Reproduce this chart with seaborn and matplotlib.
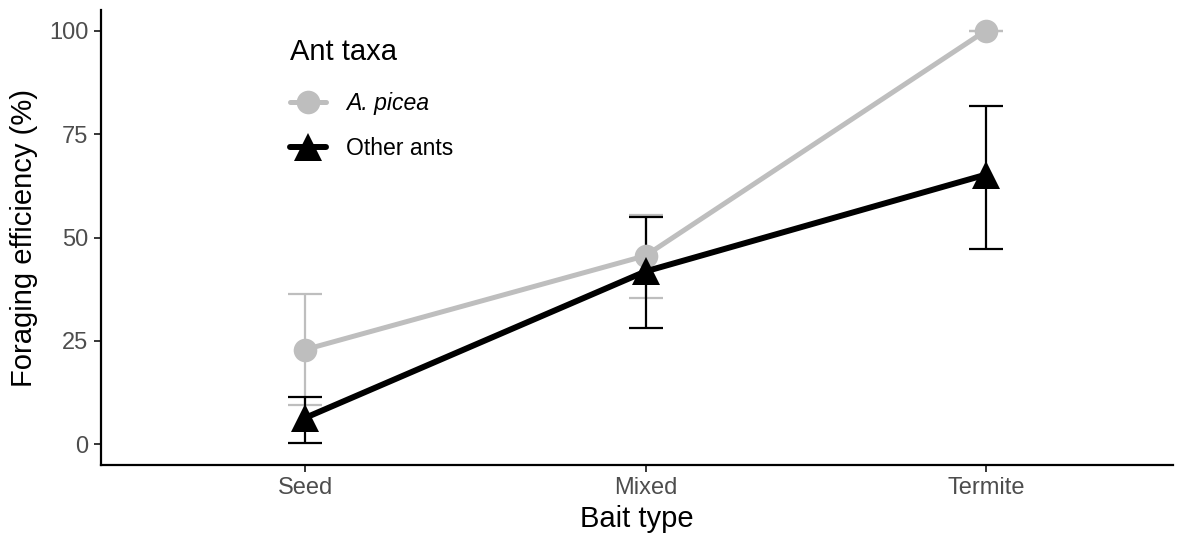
import matplotlib
matplotlib.use("Agg")
import matplotlib.pyplot as plt
import seaborn as sns
import pandas as pd
import numpy as np
from matplotlib.lines import Line2D

bait = ["Seed", "Mixed", "Termite"]
taxa = ["A. picea", "Other ants"]
picea_mean = [22.9, 45.6, 100.0]
picea_low = [9.5, 35.3, 100.0]
picea_high = [36.4, 55.4, 100.0]
other_mean = [6.4, 41.8, 65.2]
other_low = [0.4, 28.1, 47.2]
other_high = [11.5, 55.0, 81.9]

colors = {"A. picea": "#BEBEBE", "Other ants": "#000000"}

df = pd.DataFrame({
    "Bait type": bait * 2,
    "taxa": [taxa[0]] * 3 + [taxa[1]] * 3,
    "eff": picea_mean + other_mean,
})

sns.set_style("ticks")
plt.rcParams["font.family"] = ["Liberation Sans", "DejaVu Sans"]

fig = plt.figure(figsize=(11.87, 5.38), dpi=100)
ax = fig.add_axes([0.0851, 0.1357, 0.9031, 0.8457])

xpos = np.arange(len(bait))
# error bars
for name, lo, hi, mu in [(taxa[0], picea_low, picea_high, picea_mean),
                         (taxa[1], other_low, other_high, other_mean)]:
    mu = np.array(mu); lo = np.array(lo); hi = np.array(hi)
    ax.errorbar(xpos, mu, yerr=[mu - lo, hi - mu], fmt="none",
                ecolor=colors[name], elinewidth=1.6, capsize=12,
                capthick=1.6, zorder=2)

sub = df[df.taxa == taxa[0]]
sns.lineplot(data=sub, x=[0, 1, 2], y="eff", color=colors[taxa[0]],
             linewidth=3.6, marker="o", markersize=17, markeredgewidth=0,
             ax=ax, zorder=3)
sub = df[df.taxa == taxa[1]]
sns.lineplot(data=sub, x=[0, 1, 2], y="eff", color=colors[taxa[1]],
             linewidth=4.3, marker="^", markersize=20, markeredgewidth=0,
             ax=ax, zorder=4)

ax.set_xlim(-0.6, 2.55)
ax.set_ylim(-5, 105)
ax.set_xticks(xpos)
ax.set_xticklabels(bait)
ax.set_yticks([0, 25, 50, 75, 100])
ax.tick_params(axis="both", labelcolor="#4D4D4D", labelsize=17, length=5,
               width=1.1, color="black", pad=4)
for s in ["top", "right"]:
    ax.spines[s].set_visible(False)
for s in ["left", "bottom"]:
    ax.spines[s].set_linewidth(1.6)
    ax.spines[s].set_color("black")
ax.set_xlabel("Bait type", fontsize=21, labelpad=4, color="black")
ax.set_ylabel("Foraging efficiency (%)", fontsize=21, labelpad=8, color="black")

handles = [
    Line2D([], [], color=colors[taxa[0]], linewidth=3.6, marker="o",
           markersize=17, markeredgewidth=0),
    Line2D([], [], color=colors[taxa[1]], linewidth=4.3, marker="^",
           markersize=20, markeredgewidth=0),
]
leg = ax.legend(handles, taxa, title="Ant taxa", loc="upper left",
                bbox_to_anchor=(0.168, 0.958), frameon=False, fontsize=16.6,
                title_fontsize=21, handlelength=1.56, labelspacing=0.95,
                handletextpad=0.87, borderaxespad=0)
leg._legend_box.align = "left"
leg._legend_box.sep = 18.5
leg.get_texts()[0].set_fontstyle("italic")
for t in leg.get_texts():
    t.set_color("black")
leg.get_title().set_color("black")

fig.savefig("out.png", dpi=100)
